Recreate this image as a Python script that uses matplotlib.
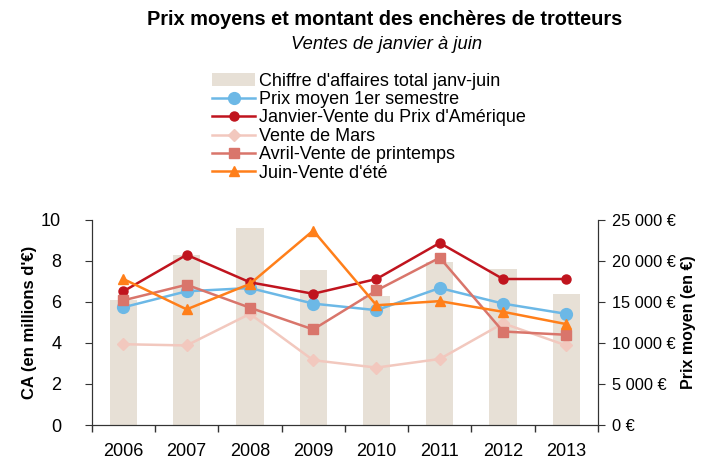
import matplotlib.pyplot as plt
import numpy as np
from matplotlib.ticker import FuncFormatter

plt.rcParams['font.family'] = ['Liberation Sans', 'DejaVu Sans']

annees = ['2006', '2007', '2008', '2009', '2010', '2011', '2012', '2013']
ca_total = [6.1, 8.3, 9.6, 7.55, 6.3, 7.95, 7.6, 6.4]
prix_moyen = [14350, 16300, 16700, 14800, 14000, 16700, 14800, 13550]
janvier = [16300, 20750, 17400, 16000, 17800, 22200, 17800, 17800]
mars = [9850, 9700, 13550, 7900, 7000, 8050, 12400, 9700]
avril = [15200, 17100, 14300, 11650, 16400, 20400, 11400, 11000]
juin = [17800, 14100, 17200, 23700, 14600, 15100, 13800, 12300]

x = np.arange(len(annees))

fig = plt.figure(figsize=(7.11, 4.65), dpi=100)
ax1 = fig.add_axes([0.129, 0.086, 0.712, 0.441])
ax2 = ax1.twinx()

b = ax1.bar(x, ca_total, width=0.43, color='#E7E0D6', label="Chiffre d'affaires total janv-juin")
l1, = ax2.plot(x, prix_moyen, color='#6CB8E6', lw=1.8, marker='o', ms=8.5, label='Prix moyen 1er semestre')
l2, = ax2.plot(x, janvier, color='#C0141E', lw=1.8, marker='o', ms=6.5, label="Janvier-Vente du Prix d'Amérique")
l3, = ax2.plot(x, mars, color='#F2C8BE', lw=1.8, marker='D', ms=6.5, label='Vente de Mars')
l4, = ax2.plot(x, avril, color='#D9756B', lw=1.8, marker='s', ms=7.5, label='Avril-Vente de printemps')
l5, = ax2.plot(x, juin, color='#FF7F1A', lw=1.8, marker='^', ms=7.5, label="Juin-Vente d'été")

ax1.set_xlim(-0.5, len(annees) - 0.5)
ax1.set_ylim(0, 10)
ax2.set_ylim(0, 25000)
ax1.set_yticks(range(0, 11, 2))
ax2.set_yticks(range(0, 25001, 5000))
ax2.yaxis.set_major_formatter(FuncFormatter(lambda v, p: '{:,.0f} €'.format(v).replace(',', ' ')))

ax1.set_xticks(x)
ax1.set_xticklabels(annees)
ax1.set_xticks(np.arange(-0.5, len(annees), 1), minor=True)
ax1.tick_params(axis='x', which='major', length=0, pad=13, labelsize=13)
ax1.tick_params(axis='x', which='minor', length=5, width=1, color='#333333')
ax1.tick_params(axis='y', labelsize=13, length=5, pad=17, color='#333333')
ax2.tick_params(axis='y', labelsize=11.8, length=5, pad=5, color='#333333')

for ax in (ax1, ax2):
    ax.spines['top'].set_visible(False)
    for s in ('left', 'right', 'bottom'):
        ax.spines[s].set_color('#333333')

ax1.set_ylabel("CA (en millions d'€)", fontsize=12, fontweight='bold', labelpad=3)
ax2.set_ylabel('Prix moyen (en €)', fontsize=11.5, fontweight='bold', labelpad=4)

fig.text(0.541, 0.959, 'Prix moyens et montant des enchères de trotteurs',
         ha='center', va='center', fontsize=14.4, fontweight='bold')
fig.text(0.544, 0.905, 'Ventes de janvier à juin', ha='center', va='center',
         fontsize=13.2, style='italic')

fig.legend(handles=[b, l1, l2, l3, l4, l5], loc='upper left',
           bbox_to_anchor=(0.298, 0.844), frameon=False, fontsize=13,
           handlelength=2.4, handletextpad=0.2, labelspacing=0.08,
           borderpad=0, borderaxespad=0)

fig.savefig('out.png', dpi=100)
